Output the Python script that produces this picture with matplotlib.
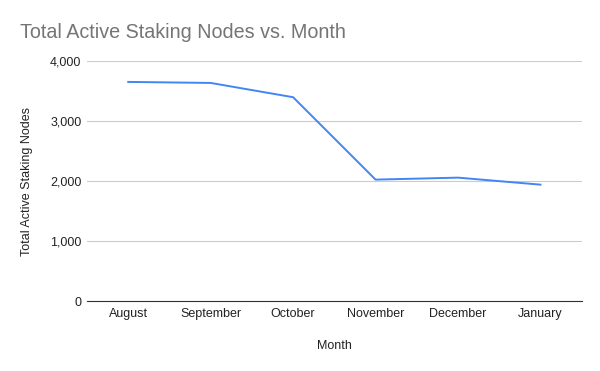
import matplotlib.pyplot as plt
from matplotlib.ticker import FuncFormatter

plt.rcParams['font.family'] = ['Liberation Sans', 'DejaVu Sans']

months = ['August', 'September', 'October', 'November', 'December', 'January']
nodes = [3655, 3638, 3400, 2027, 2060, 1943]
y_ticks = [0, 1000, 2000, 3000, 4000]

fig = plt.figure(figsize=(6, 3.71), dpi=100)
ax = fig.add_axes([0.145, 0.188, 0.8245, 0.647])

ax.plot(range(len(months)), nodes, color='#4285F4', linewidth=1.4)

ax.set_xlim(-0.5, len(months) - 0.5)
ax.set_ylim(0, 4000)
ax.set_yticks(y_ticks)
ax.yaxis.set_major_formatter(FuncFormatter(lambda v, p: f'{int(v):,}'))
ax.set_xticks(range(len(months)))
ax.set_xticklabels(months)
ax.grid(axis='y', color='#cccccc', linewidth=0.8)
ax.set_axisbelow(True)
for s in ['top', 'right', 'left']:
    ax.spines[s].set_visible(False)
ax.spines['bottom'].set_color('#333333')
ax.tick_params(length=0, labelsize=9, colors='#222222')
ax.tick_params(axis='x', pad=5)
ax.tick_params(axis='y', pad=4)

ax.set_xlabel('Month', fontsize=9, color='#222222', labelpad=14)
ax.set_ylabel('Total Active Staking Nodes', fontsize=9, color='#222222', labelpad=12)
fig.text(0.033, 0.912, 'Total Active Staking Nodes vs. Month', fontsize=14.2,
         color='#757575', va='center')

fig.savefig('out.png')
